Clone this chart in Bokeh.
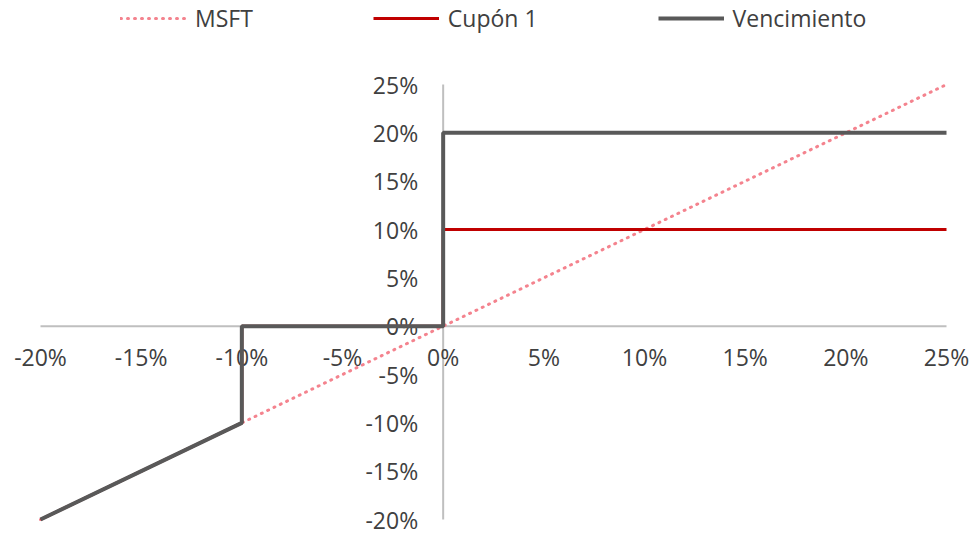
from bokeh.plotting import figure
from bokeh.models import Range1d, Legend, LegendItem, ColumnDataSource
from bokeh.core.properties import value
from bokeh.embed import file_html
from bokeh.resources import INLINE

# data (percent units)
msft_x = [-20, 25]
msft_y = [-20, 25]
cupon_x = [-20, -10, -10, 0, 0, 25]
cupon_y = [-20, -10, 0, 0, 10, 10]
venc_x = [-20, -10, -10, 0, 0, 25]
venc_y = [-20, -10, 0, 0, 20, 20]
x_ticks = [-20, -15, -10, -5, 0, 5, 10, 15, 20, 25]
y_ticks = [-20, -15, -10, -5, 0, 5, 10, 15, 20, 25]
x_tick_labels = [f"{t}%" for t in x_ticks]
y_tick_labels = [f"{t}%" for t in y_ticks]

FONT = "Open Sans"
TXT = "#404040"
FS = "23px"

W, H = 974, 535
# pixel layout of the plotting area inside the canvas
L, R, T, B = 40, 946, 84, 519
x0, x1 = -20, 25
y0, y1 = -20, 25
sx = (R - L) / (x1 - x0)
sy = (B - T) / (y1 - y0)

p = figure(width=W, height=H, output_backend="svg", toolbar_location=None,
           x_range=Range1d(x0 - L / sx, x1 + (W - R) / sx),
           y_range=Range1d(y0 - (H - B) / sy, y1 + T / sy),
           x_axis_type=None, y_axis_type=None,
           min_border=0, min_border_left=0, min_border_right=0,
           min_border_top=0, min_border_bottom=0)
p.outline_line_color = None
p.xgrid.visible = False
p.ygrid.visible = False
p.background_fill_color = "white"
p.border_fill_color = "white"

# axis lines crossing at origin
p.segment(x0=[x0, 0], y0=[0, y0], x1=[x1, 0], y1=[0, y1], line_color="#bfbfbf", line_width=2)

# tick labels
xs = ColumnDataSource(dict(x=x_ticks, y=[0] * len(x_ticks), t=x_tick_labels))
p.text(x="x", y="y", text="t", source=xs, text_align="center", text_baseline="middle",
       y_offset=31, text_font=value(FONT), text_font_size=FS, text_color=TXT)
ys = ColumnDataSource(dict(x=[0] * len(y_ticks), y=y_ticks, t=y_tick_labels))
p.text(x="x", y="y", text="t", source=ys, text_align="right", text_baseline="middle",
       x_offset=-25, text_font=value(FONT), text_font_size=FS, text_color=TXT)

r_msft = p.line(msft_x, msft_y, line_color="#f4838e", line_width=3, line_dash="1 6", line_cap="round")
r_cup = p.line(cupon_x, cupon_y, line_color="#c00000", line_width=3)
r_ven = p.line(venc_x, venc_y, line_color="#595959", line_width=4)

legend = Legend(items=[LegendItem(label="MSFT", renderers=[r_msft]),
                       LegendItem(label="Cupón 1", renderers=[r_cup]),
                       LegendItem(label="Vencimiento", renderers=[r_ven])],
                orientation="horizontal", location=(120, 501),
                glyph_width=66, glyph_height=20, label_height=20, spacing=120, label_standoff=9,
                label_text_font=FONT, label_text_font_size=FS, label_text_color=TXT,
                border_line_alpha=0, background_fill_alpha=0, margin=0, padding=0)
p.add_layout(legend, "center")

open("out.html", "w").write(file_html(p, INLINE))
